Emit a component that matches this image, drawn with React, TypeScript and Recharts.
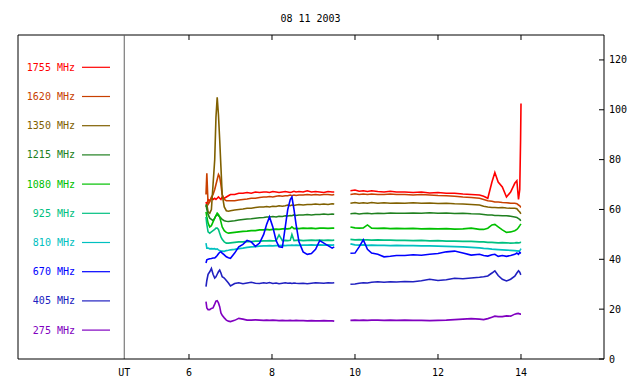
import { Line, LineChart, ReferenceLine, XAxis, YAxis } from "recharts";

// UT hours; 9.7 is the data gap
const times = [
  6.41, 6.43, 6.46, 6.5, 6.54, 6.58, 6.62, 6.65, 6.68, 6.71, 6.74, 6.77, 6.8, 6.85, 6.9, 6.95, 7.0,
  7.1, 7.2, 7.3, 7.4, 7.5, 7.6, 7.7, 7.8,
  7.87, 7.94, 8.02, 8.1, 8.17, 8.25, 8.32, 8.38, 8.44, 8.48, 8.53, 8.58, 8.65, 8.75, 8.85, 8.95, 9.05, 9.15, 9.25, 9.35, 9.45, 9.5,
  9.7,
  9.89, 10.0, 10.1, 10.2, 10.3, 10.4, 10.55, 10.7, 10.85, 11.0,
  11.2, 11.4, 11.6, 11.8, 12.0, 12.2, 12.4, 12.6, 12.8, 13.0,
  13.1, 13.2, 13.3, 13.37, 13.45, 13.55, 13.65, 13.75, 13.85, 13.9, 13.94, 13.97, 13.99, 14.0,
];

const f1755 = [
  63, 62, 64, 63.5, 64.5, 64, 64.5, 64, 64.5, 65, 64.5, 64, 65, 64.5, 65, 65.5, 66,
  66, 66.5, 66.5, 66.8, 66.5, 67, 66.8, 67,
  67, 66.8, 67.2, 67, 66.8, 67, 67.2, 67, 66.8, 67, 67.3, 67, 67.2, 67, 67.5, 67, 67.2, 67, 66.8, 67.2, 67, 67,
  null,
  67.5, 67.8, 67.3, 67.5, 67.2, 67.5, 67.2, 67, 67.3, 67,
  67, 66.8, 67, 66.6, 66.8, 66.5, 66.5, 66.2, 66, 65.8,
  65.3, 64.5, 71, 74.8, 71, 69, 65, 67, 70.5, 71.5, 64, 68, 88, 102.5,
];
const f1620 = [
  66, 74.5, 62, 63, 65, 66, 68, 70, 72, 74, 73, 70, 66, 64, 63.5, 63.5, 63.5,
  63.5, 63.8, 64, 64.2, 64.5, 64.5, 64.8, 65,
  65, 65.2, 65, 65.3, 65.5, 65.3, 65.5, 65.5, 65.8, 65.5, 65.8, 65.6, 65.8, 65.8, 66, 65.8, 66, 65.8, 66, 66, 65.8, 66,
  null,
  66, 66.3, 66, 66.2, 66, 66.2, 66, 66, 66.2, 66,
  66, 65.8, 66, 65.8, 65.6, 65.5, 65.3, 65, 64.8, 64.5,
  64, 63.5, 63.3, 63, 63, 62.8, 62.7, 62.5, 62.5, 62.3, 61.8, 61.5, 61, 61,
];
const f1350 = [
  61, 62, 59, 58.5, 60, 70, 80, 97, 105, 98, 88, 77, 66, 61, 59.5, 59.3, 59.5,
  59.8, 60, 60.2, 60.5, 60.5, 60.8, 61, 61,
  61.2, 61, 61.3, 61.2, 61.5, 61.3, 61.5, 61.8, 61.5, 61.8, 61.6, 61.8, 62, 61.8, 62, 62, 62.2, 62, 62.2, 62, 62.3, 62.2,
  null,
  62.5, 62.8, 62.5, 62.7, 62.5, 62.8, 62.5, 62.7, 62.5, 62.6,
  62.5, 62.7, 62.5, 62.6, 62.4, 62.5, 62.3, 62.2, 62, 61.8,
  61.3, 61, 60.8, 60.8, 60.7, 60.8, 60.6, 60.5, 60.5, 60.3, 59.5, 59, 58.5, 58.3,
];
const f1215 = [
  62, 60, 58, 56.5, 56, 55.5, 56.5, 57.5, 58, 57.5, 57, 56.5, 56, 55.5, 55.3, 55.2, 55.3,
  55.5, 55.8, 56, 56.2, 56.3, 56.5, 56.7, 56.8,
  57, 57, 57.2, 57, 57.3, 57.2, 57.5, 57.4, 57.6, 57.5, 57.8, 57.6, 57.8, 57.8, 58, 57.8, 58, 58, 58.2, 58, 58.2, 58.1,
  null,
  58.3, 58.5, 58.2, 58.4, 58.5, 58.3, 58.5, 58.4, 58.6, 58.5,
  58.5, 58.6, 58.5, 58.7, 58.5, 58.6, 58.4, 58.5, 58.3, 58.2,
  58, 57.8, 57.8, 57.6, 57.6, 57.5, 57.5, 57.3, 57, 56.8, 56.3, 56, 55.6, 55.5,
];
const f1080 = [
  59, 57, 54.5, 53, 53.5, 55, 56.5, 57.5, 58.5, 58, 57, 55, 53, 51.5, 50.8, 50.5, 50.6,
  50.8, 51, 51.2, 51.3, 51.5, 51.5, 51.8, 51.8,
  52, 51.8, 52, 52.1, 52, 52.2, 52.3, 52.2, 52.4, 53, 52.3, 52.4, 52.3, 52.5, 52.4, 52.5, 52.3, 52.5, 52.5, 52.4, 52.5, 52.5,
  null,
  53, 52.6, 52.5, 52.6, 53.8, 52.5, 52.4, 52.5, 52.3, 52.4,
  52.3, 52.4, 52.2, 52.3, 52.2, 52.3, 52.1, 52.2, 52.5, 52,
  52, 52.5, 53.8, 54, 53, 51.8, 50.8, 51, 51.5, 52, 52.8, 53.5, 54, 54.2,
];
const f925 = [
  57, 54, 51, 50.5, 51, 51.5, 52, 52.5, 52.5, 52, 50.5, 49, 48, 47, 46.5, 46.5, 46.6,
  46.8, 47, 47, 47.2, 47.1, 47.3, 47.3, 47.4,
  47.4, 47.5, 47.4, 47.5, 49.8, 47.5, 47.6, 47.5, 47.6, 50, 47.5, 47.6, 47.7, 47.5, 47.6, 47.7, 47.6, 47.7, 47.6, 47.7, 47.6, 47.7,
  null,
  48, 47.8, 47.9, 47.8, 47.8, 47.7, 47.8, 47.7, 47.7, 47.6,
  47.6, 47.5, 47.6, 47.4, 47.5, 47.3, 47.3, 47.2, 47.2, 47,
  47, 46.8, 46.8, 46.7, 46.6, 46.7, 46.6, 46.5, 46.6, 46.7, 46.6, 46.7, 46.8, 46.7,
];
const f810 = [
  46.5, 44.5, 44.5, 44.2, 44.3, 44.2, 44.3, 44, 44.2, 43.8, 43.5, 43.3, 43.3, 43.2, 43.5, 43.6, 43.8,
  44, 44.3, 44.5, 44.8, 45, 45.1, 45.3, 45.4,
  45.4, 45.5, 45.4, 45.5, 45.5, 45.6, 45.5, 45.6, 45.6, 45.7, 45.6, 45.7, 45.6, 45.7, 45.7, 45.8, 45.7, 45.8, 45.7, 45.8, 45.7, 45.8,
  null,
  46.2, 45.8, 45.7, 45.8, 45.6, 45.7, 45.6, 45.6, 45.5, 45.6,
  45.5, 45.5, 45.4, 45.4, 45.3, 45.2, 45.1, 45, 44.8, 44.6,
  44.4, 44.3, 44.1, 44, 43.9, 43.8, 43.7, 43.6, 43.5, 43.4, 43.3, 43.5, 44, 44.3,
];
const f670 = [
  38.5, 39.8, 40, 40.2, 40.3, 40.5, 40.5, 41, 41.5, 42.2, 42.8, 43, 42.5, 41.8, 41, 40.6, 40.4,
  42.5, 45, 46, 47.6, 47, 45.2, 46.5, 50,
  54, 57, 53, 47.5, 45, 44.8, 53, 60, 64, 65, 60, 54, 47, 43, 42, 42.3, 44, 47.5, 46.5, 45.5, 44.5, 45,
  null,
  42.4, 42.5, 45, 47.8, 44, 42.5, 42, 41, 41.2, 41.5,
  41.5, 41.8, 41.6, 42, 42.3, 43, 43.3, 42.5, 41.7, 42,
  41.5, 41.3, 41.8, 42, 41.2, 41.5, 41.2, 41.5, 42, 42.5, 42, 42.8, 42.5, 42.4,
];
const f405 = [
  29, 31.5, 34, 35, 36.3, 34, 32.5, 33, 34, 35, 35.7, 34.5, 33, 32.5, 31.5, 30.5, 29.3,
  30.3, 30.6, 30.2, 30.5, 30.8, 30.4, 30.3, 30.6,
  30.4, 30.7, 30.3, 30.5, 30.2, 30.4, 30.6, 30.4, 30.5, 30.3, 30.5, 30.4, 30.3, 30.4, 30.2, 30.4, 30.6, 30.5, 30.4, 30.6, 30.5, 30.6,
  null,
  30, 30.1, 30.4, 30.6, 30.5, 30.8, 31, 30.8, 31, 30.9,
  31.1, 31, 31.4, 32, 31.5, 31.8, 32.4, 32.2, 32.5, 32.8,
  33, 33.3, 34.5, 35.4, 33.5, 32, 31.3, 32, 33.2, 34.5, 35.4, 34.8, 34, 33.8,
];
const f275 = [
  23, 20.5, 19.8, 19.8, 20.3, 20.5, 22, 23.2, 23.4, 22.5, 21, 18.5, 17.5, 16.5, 15.6, 15.2, 15,
  15.5, 16.3, 16, 15.6, 15.6, 15.7, 15.6, 15.5,
  15.6, 15.5, 15.6, 15.5, 15.4, 15.5, 15.4, 15.4, 15.5, 15.4, 15.4, 15.5, 15.4, 15.4, 15.3, 15.4, 15.3, 15.3, 15.4, 15.3, 15.3, 15.2,
  null,
  15.5, 15.6, 15.5, 15.6, 15.5, 15.6, 15.6, 15.5, 15.6, 15.5,
  15.6, 15.5, 15.5, 15.4, 15.5, 15.6, 15.8, 16, 16.2, 16,
  15.8, 16.2, 16.8, 17.2, 17, 17, 17.3, 17.2, 18, 18.2, 18.3, 18.1, 18, 18,
];

const labels = ["1755 MHz", "1620 MHz", "1350 MHz", "1215 MHz", "1080 MHz", "925 MHz", "810 MHz", "670 MHz", "405 MHz", "275 MHz"];
const colors = ["#ff0000", "#c84000", "#806000", "#208020", "#00c000", "#00c080", "#00c0c0", "#0000ff", "#2020c0", "#8000c0"];
const values = [f1755, f1620, f1350, f1215, f1080, f925, f810, f670, f405, f275];

const xTicks = [4.44, 6, 8, 10, 12, 14];
const hourTicks = [6, 8, 10, 12, 14];
const yTicks = [0, 20, 40, 60, 80, 100, 120];
const xDomain = [1.88, 16];
const yDomain = [0, 130];
const title = "08 11 2003";

const FONT = "'DejaVu Sans Mono', monospace";

const data = times.map((t, i) => {
  const row: Record<string, number | null> = { t };
  values.forEach((v, k) => (row["s" + k] = v[i]));
  return row;
});

function BottomTick({ x, y, payload }: any) {
  const ut = payload.value < 5;
  return (
    <g>
      {!ut && <line x1={x} x2={x} y1={y} y2={y - 5} stroke="#000" />}
      <text x={x} y={y + 17} textAnchor="middle" fontSize={10} fontFamily={FONT} fill="#000">
        {ut ? "UT" : payload.value}
      </text>
    </g>
  );
}

function RightTick({ x, y, payload }: any) {
  return (
    <g>
      <line x1={x - 5} x2={x} y1={y} y2={y} stroke="#000" />
      <text x={x + 5} y={y} dominantBaseline="central" fontSize={10} fontFamily={FONT} fill="#000">
        {payload.value}
      </text>
    </g>
  );
}

export default function App() {
  return (
    <div style={{ position: "relative", width: 632, height: 376 }}>
      <LineChart width={632} height={376} data={data} margin={{ top: 27, right: 0, bottom: 0, left: 10 }}>
        <XAxis
          dataKey="t"
          type="number"
          domain={xDomain}
          ticks={xTicks}
          height={25}
          tickSize={0}
          tickMargin={0}
          tickLine={false}
          axisLine={{ stroke: "#000" }}
          tick={<BottomTick />}
          interval={0}
        />
        <YAxis
          yAxisId="r"
          orientation="right"
          domain={yDomain}
          ticks={yTicks}
          width={36}
          tickSize={0}
          tickMargin={0}
          tickLine={false}
          axisLine={{ stroke: "#000" }}
          tick={<RightTick />}
          interval={0}
        />
        <ReferenceLine yAxisId="r" x={xDomain[0]} stroke="#000" />
        <ReferenceLine yAxisId="r" y={yDomain[1]} stroke="#000" />
        {hourTicks.map((h) => (
          <ReferenceLine
            key={h}
            yAxisId="r"
            segment={[
              { x: h, y: yDomain[1] },
              { x: h, y: yDomain[1] - 2 },
            ]}
            stroke="#000"
          />
        ))}
        <ReferenceLine yAxisId="r" x={4.44} stroke="#606060" />
        {values.map((_, k) => (
          <Line
            key={k}
            yAxisId="r"
            dataKey={"s" + k}
            stroke={colors[k]}
            strokeWidth={1.6}
            dot={false}
            type="linear"
            isAnimationActive={false}
          />
        ))}
      </LineChart>
      <svg width={632} height={376} style={{ position: "absolute", left: 0, top: 0, pointerEvents: "none" }}>
        <text x={302.5} y={13.5} textAnchor="middle" fontSize={10} fontFamily={FONT} fill="#000">
          {title}
        </text>
        {labels.map((lab, i) => (
          <g key={lab}>
            <text x={67} y={59.3 + i * 29.2} textAnchor="end" dominantBaseline="central" fontSize={10} fontFamily={FONT} fill={colors[i]}>
              {lab}
            </text>
            <line x1={74} x2={102} y1={59.3 + i * 29.2} y2={59.3 + i * 29.2} stroke={colors[i]} strokeWidth={1.2} />
          </g>
        ))}
      </svg>
    </div>
  );
}
